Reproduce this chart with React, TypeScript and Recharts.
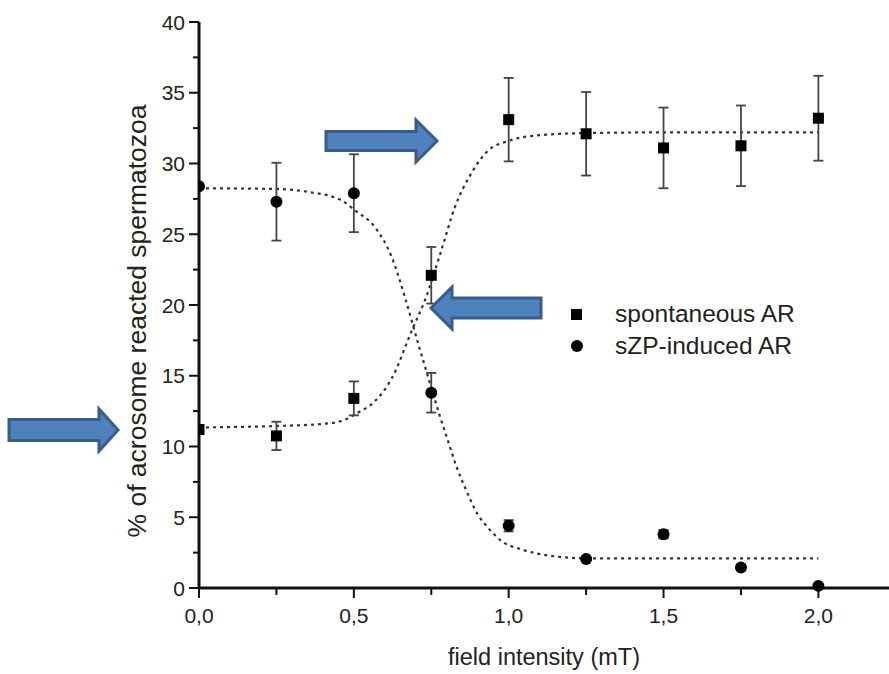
import React from 'react';
import { ComposedChart, Scatter, Line, XAxis, YAxis, ErrorBar, Legend } from 'recharts';

// measured points (mean ± error) per field intensity
const fieldIntensity = [0, 0.25, 0.5, 0.75, 1.0, 1.25, 1.5, 1.75, 2.0];
const spontaneousMean = [11.2, 10.75, 13.4, 22.1, 33.1, 32.1, 31.1, 31.25, 33.2];
const spontaneousErr = [null, 1.0, 1.2, 2.0, 2.95, 2.95, 2.85, 2.85, 3.0];
const szpMean = [28.4, 27.3, 27.9, 13.8, 4.4, 2.05, 3.8, 1.45, 0.15];
const szpErr = [null, 2.75, 2.75, 1.4, 0.4, null, 0.3, null, null];

// sigmoidal fit curves
const spontaneousFitX = [0, 0.25, 0.4, 0.46, 0.514, 0.568, 0.622, 0.691, 0.729, 0.783, 0.826, 0.879, 0.933, 1.0, 1.1, 1.25, 1.5, 2.0];
const spontaneousFitY = [11.35, 11.45, 11.6, 11.8, 12.4, 13.2, 14.8, 18.4, 20.3, 23.9, 26.9, 29.3, 30.9, 31.6, 32.0, 32.15, 32.2, 32.2];
const szpFitX = [0, 0.25, 0.35, 0.46, 0.503, 0.568, 0.622, 0.665, 0.708, 0.74, 0.777, 0.804, 0.831, 0.863, 0.9, 0.933, 0.976, 1.04, 1.105, 1.25, 1.5, 2.0];
const szpFitY = [28.25, 28.2, 28.0, 27.4, 26.7, 25.5, 23.4, 20.55, 17.25, 14.9, 12.2, 10.4, 8.6, 6.9, 5.2, 4.27, 3.33, 2.74, 2.38, 2.1, 2.1, 2.1];

const xTicks = [0, 0.25, 0.5, 0.75, 1.0, 1.25, 1.5, 1.75, 2.0];
const yTicks = [0, 2.5, 5, 7.5, 10, 12.5, 15, 17.5, 20, 22.5, 25, 27.5, 30, 32.5, 35, 37.5, 40];

const seriesNames = ['spontaneous AR', 'sZP-induced AR'];

const spontaneous = fieldIntensity.map((x, i) => ({ x, y: spontaneousMean[i], err: spontaneousErr[i] }));
const szp = fieldIntensity.map((x, i) => ({ x, y: szpMean[i], err: szpErr[i] }));
const spontaneousFit = spontaneousFitX.map((x, i) => ({ x, y: spontaneousFitY[i] }));
const szpFit = szpFitX.map((x, i) => ({ x, y: szpFitY[i] }));

const FONT = '"Liberation Sans", Arial, sans-serif';
const INK = '#222';

const isMajor = (v: number, step: number) => Math.abs(v / step - Math.round(v / step)) < 1e-6;

const XTick = (props: any) => {
  const { x, y, payload } = props;
  const major = isMajor(payload.value, 0.5);
  return (
    <g>
      <line x1={x} x2={x} y1={y} y2={y + (major ? 10 : 7)} stroke="#111" strokeWidth={2} />
      {major && (
        <text x={x} y={y + 35} textAnchor="middle" fontFamily={FONT} fontSize={21} fill={INK}>
          {payload.value.toFixed(1).replace('.', ',')}
        </text>
      )}
    </g>
  );
};

const YTick = (props: any) => {
  const { x, y, payload } = props;
  const major = isMajor(payload.value, 5);
  return (
    <g>
      <line x1={x} x2={x - (major ? 10 : 6)} y1={y} y2={y} stroke="#111" strokeWidth={2} />
      {major && (
        <text x={x - 14} y={y} dy="0.36em" textAnchor="end" fontFamily={FONT} fontSize={21} fill={INK}>
          {payload.value}
        </text>
      )}
    </g>
  );
};

const YTitle = () => (
  <text
    x={146}
    y={321}
    transform="rotate(-90, 146, 321)"
    textAnchor="middle"
    fontFamily={FONT}
    fontSize={26.5}
    fill={INK}
  >
    % of acrosome reacted spermatozoa
  </text>
);

const SquareDot = (p: any) => <rect x={p.cx - 5.5} y={p.cy - 5.5} width={11} height={11} fill="#000" />;
const RoundDot = (p: any) => <circle cx={p.cx} cy={p.cy} r={6} fill="#000" />;

const LegendBox = () => (
  <div style={{ fontFamily: FONT, fontSize: 24.5, color: INK, lineHeight: '32px' }}>
    <div style={{ display: 'flex', alignItems: 'center' }}>
      <span style={{ width: 11, height: 11, background: '#000', marginRight: 33 }} />
      <span>{seriesNames[0]}</span>
    </div>
    <div style={{ display: 'flex', alignItems: 'center' }}>
      <span style={{ width: 12, height: 12, borderRadius: 6, background: '#000', marginRight: 32 }} />
      <span>{seriesNames[1]}</span>
    </div>
  </div>
);

// block arrow outline: tail -> neck (shaft), neck -> tip (head)
const arrowPoints = (tail: number, neck: number, tip: number, cy: number, body: number, head: number) =>
  [
    [tail, cy - body],
    [neck, cy - body],
    [neck, cy - head],
    [tip, cy],
    [neck, cy + head],
    [neck, cy + body],
    [tail, cy + body],
  ]
    .map((p) => p.join(','))
    .join(' ');

const arrows = [
  arrowPoints(326, 416, 437, 141, 9.5, 21),
  arrowPoints(541, 452, 431, 308, 10, 21),
  arrowPoints(9, 99, 118, 430, 10.5, 21),
];

export default function App() {
  return (
    <div style={{ position: 'absolute', left: 0, top: 0, width: 889, height: 674, background: '#fff' }}>
      <ComposedChart width={889} height={674} margin={{ top: 22, right: 0, bottom: 0, left: 0 }}>
        <XAxis
          type="number"
          dataKey="x"
          domain={[0, 2.228]}
          ticks={xTicks}
          interval={0}
          allowDataOverflow
          height={86}
          tickSize={0}
          tickMargin={0}
          tickLine={false}
          tick={<XTick />}
          axisLine={{ stroke: '#111', strokeWidth: 3 }}
          label={{ value: 'field intensity (mT)', position: 'insideBottom', offset: 9, fontFamily: FONT, fontSize: 23.5, fill: INK }}
        />
        <YAxis
          type="number"
          domain={[0, 40]}
          ticks={yTicks}
          interval={0}
          width={199}
          tickSize={0}
          tickMargin={0}
          tickLine={false}
          tick={<YTick />}
          axisLine={{ stroke: '#111', strokeWidth: 3 }}
          label={{ content: <YTitle /> }}
        />
        <Line data={spontaneousFit} dataKey="y" type="monotone" stroke="#333" strokeWidth={2.2} strokeDasharray="3 4" dot={false} legendType="none" isAnimationActive={false} />
        <Line data={szpFit} dataKey="y" type="monotone" stroke="#333" strokeWidth={2.2} strokeDasharray="3 4" dot={false} legendType="none" isAnimationActive={false} />
        <Scatter name={seriesNames[0]} data={spontaneous} dataKey="y" shape={SquareDot} isAnimationActive={false}>
          <ErrorBar dataKey="err" direction="y" width={5} stroke="#444" strokeWidth={1.8} />
        </Scatter>
        <Scatter name={seriesNames[1]} data={szp} dataKey="y" shape={RoundDot} isAnimationActive={false}>
          <ErrorBar dataKey="err" direction="y" width={5} stroke="#444" strokeWidth={1.8} />
        </Scatter>
        <Legend
          layout="vertical"
          align="center"
          verticalAlign="middle"
          content={<LegendBox />}
          wrapperStyle={{ left: 571, top: 298, width: 280 }}
        />
      </ComposedChart>
      <svg width={889} height={674} style={{ position: 'absolute', left: 0, top: 0, pointerEvents: 'none' }}>
        {arrows.map((pts, i) => (
          <polygon key={i} points={pts} fill="#4F81BD" stroke="#385D8A" strokeWidth={3} strokeLinejoin="miter" />
        ))}
      </svg>
    </div>
  );
}
